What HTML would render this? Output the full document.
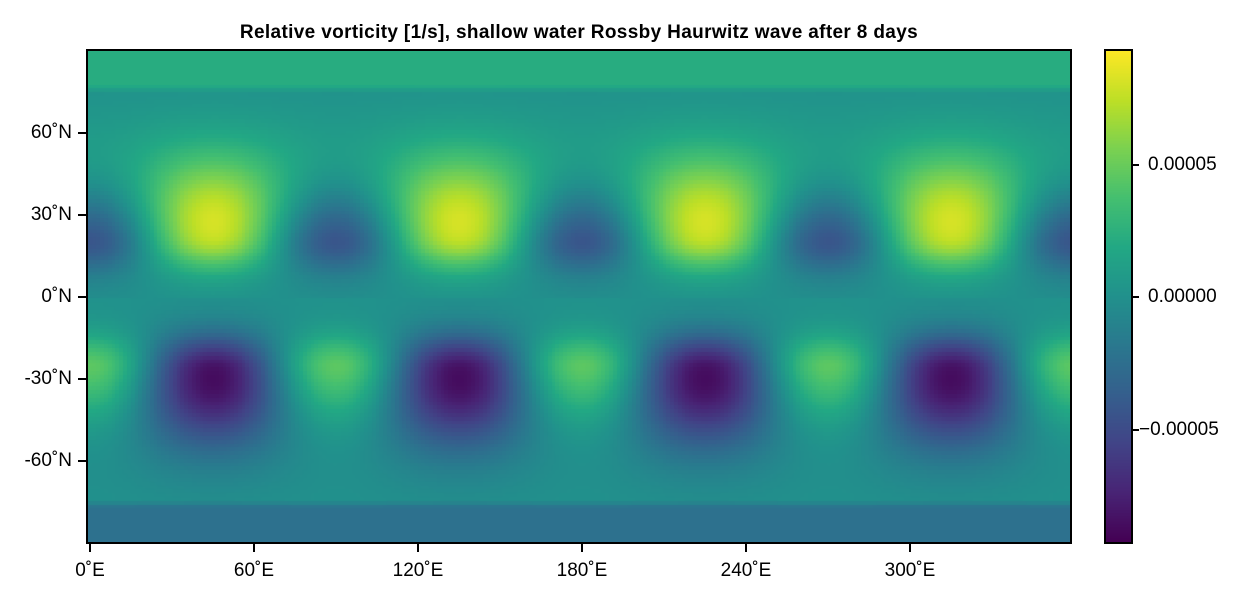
<!DOCTYPE html>
<html><head><meta charset="utf-8"><style>
body{margin:0;background:#fff;width:1250px;height:600px;overflow:hidden;position:relative;font-family:"Liberation Sans",sans-serif;}
.t{position:absolute;font-size:19px;line-height:22px;color:#000;white-space:nowrap;}
canvas{position:absolute;}
.tk{position:absolute;background:#000;}
</style></head><body>
<div class="t" style="left:0;width:1158px;text-align:center;top:22px;font-weight:bold;font-size:19px;letter-spacing:0.35px">Relative vorticity [1/s], shallow water Rossby Haurwitz wave after 8 days</div>
<canvas id="c" width="982" height="491" style="left:88px;top:51px;"></canvas>
<div style="position:absolute;left:87px;top:50px;width:982px;height:491px;border:2px solid #000;margin:-1px;"></div>
<canvas id="cb" width="25" height="491" style="left:1106px;top:51px;"></canvas>
<div style="position:absolute;left:1105px;top:50px;width:25px;height:491px;border:2px solid #000;margin:-1px;"></div>
<div class="tk" style="left:78px;top:132px;width:10px;height:2px"></div>
<div class="tk" style="left:78px;top:214px;width:10px;height:2px"></div>
<div class="tk" style="left:78px;top:296px;width:10px;height:2px"></div>
<div class="tk" style="left:78px;top:378px;width:10px;height:2px"></div>
<div class="tk" style="left:78px;top:460px;width:10px;height:2px"></div>
<div class="t" style="right:1178px;top:122px">60˚N</div>
<div class="t" style="right:1178px;top:204px">30˚N</div>
<div class="t" style="right:1178px;top:286px">0˚N</div>
<div class="t" style="right:1178px;top:368px">-30˚N</div>
<div class="t" style="right:1178px;top:450px">-60˚N</div>
<div class="tk" style="left:89px;top:542px;width:2px;height:10px"></div>
<div class="tk" style="left:253px;top:542px;width:2px;height:10px"></div>
<div class="tk" style="left:417px;top:542px;width:2px;height:10px"></div>
<div class="tk" style="left:581px;top:542px;width:2px;height:10px"></div>
<div class="tk" style="left:745px;top:542px;width:2px;height:10px"></div>
<div class="tk" style="left:909px;top:542px;width:2px;height:10px"></div>
<div class="t" style="left:40px;width:100px;text-align:center;top:560px">0˚E</div>
<div class="t" style="left:204px;width:100px;text-align:center;top:560px">60˚E</div>
<div class="t" style="left:368px;width:100px;text-align:center;top:560px">120˚E</div>
<div class="t" style="left:532px;width:100px;text-align:center;top:560px">180˚E</div>
<div class="t" style="left:696px;width:100px;text-align:center;top:560px">240˚E</div>
<div class="t" style="left:860px;width:100px;text-align:center;top:560px">300˚E</div>
<div class="tk" style="left:1131px;top:164px;width:8px;height:2px"></div>
<div class="tk" style="left:1131px;top:296px;width:8px;height:2px"></div>
<div class="tk" style="left:1131px;top:429px;width:8px;height:2px"></div>
<div class="t" style="left:1148px;top:154px">0.00005</div>
<div class="t" style="left:1148px;top:286px">0.00000</div>
<div class="t" style="left:1139px;top:419px">−0.00005</div>
<script>
var V=[[68,1,84],[72,36,117],[65,68,135],[53,95,141],[42,120,142],[33,145,140],[34,168,132],[68,191,112],[122,209,81],[189,223,38],[253,231,37]];
function cm(t){t=Math.max(0,Math.min(1,t));var s=t*10,i=Math.min(9,Math.floor(s)),f=s-i,a=V[i],b=V[i+1];return [a[0]+(b[0]-a[0])*f,a[1]+(b[1]-a[1])*f,a[2]+(b[2]-a[2])*f];}
var VMAX=0.0000927;
function ss(a,b,x){var t=Math.max(0,Math.min(1,(x-a)/(b-a)));return t*t*(3-2*t);}
function field(lon,lat){
 var r=Math.PI/180,al=Math.abs(lat),sg=lat>=0?1:-1;
 var c=sg>0?22:27;
 var g=al<c?Math.exp(-Math.pow((al-c)/13,2)):Math.exp(-Math.pow((al-c)/24,2));
 var amp=sg>0?0.00006:0.000065;
 var w=Math.cos(4*(lon-45)*r);
 var B=0.000032*Math.sin(2*lat*r)*Math.exp(-Math.pow((al-35)/28,2));
 if(sg<0)B*=0.85;
 var v=sg*amp*g*w+B;
 var p=ss(74,78,al);
 v=v*(1-p)+p*(sg>0?0.000022:-0.000024);
 return v;
}
var c=document.getElementById('c'),x=c.getContext('2d'),W=982,H=491,img=x.createImageData(W,H);
for(var j=0;j<H;j++){var lat=90-(j+0.5)/H*180;lat=Math.round(lat/1.4)*1.4;
 for(var i=0;i<W;i++){var lon=(i-2)/2.733;lon=Math.round(lon/1.4)*1.4;
  var v=field(lon,lat),col=cm((v+VMAX)/(2*VMAX)),k=(j*W+i)*4;
  img.data[k]=col[0];img.data[k+1]=col[1];img.data[k+2]=col[2];img.data[k+3]=255;}}
x.putImageData(img,0,0);
var cb=document.getElementById('cb'),y=cb.getContext('2d');
for(var j=0;j<491;j++){var col=cm(1-j/490);y.fillStyle='rgb('+col.map(Math.round).join(',')+')';y.fillRect(0,j,25,1);}
</script>
</body></html>
